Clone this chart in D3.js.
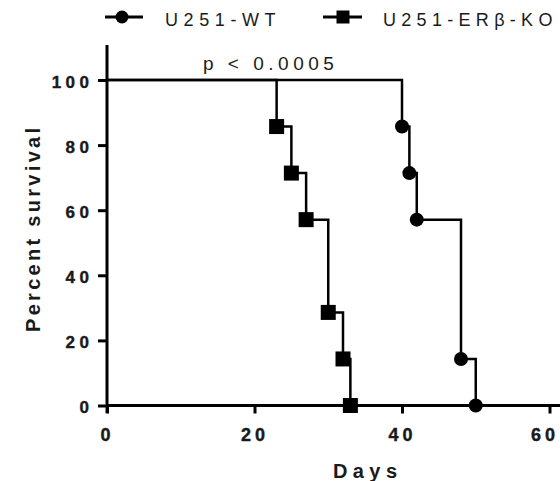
<!DOCTYPE html>
<html><head><meta charset="utf-8">
<script src="https://cdn.jsdelivr.net/npm/d3@7"></script>
<style>body{margin:0;background:#fff}svg{display:block}text{font-family:"Liberation Sans",Arial,sans-serif;fill:#1a1a1a}</style>
</head><body><svg id="c" width="560" height="481"></svg>
<script>
const seriesNames = ["U251-WT", "U251-ERβ-KO"];
const wtDays = [0, 40, 41, 42, 48, 50];
const wtSurvival = [100, 85.7, 71.4, 57.1, 14.3, 0];
const koDays = [0, 23, 25, 27, 30, 32, 33];
const koSurvival = [100, 85.7, 71.4, 57.1, 28.6, 14.3, 0];
const xTicks = [0, 20, 40, 60];
const yTicks = [0, 20, 40, 60, 80, 100];
const pText = "p < 0.0005";

const svg = d3.select("#c");
const x = d3.scaleLinear().domain([0, 60]).range([107, 549.5]);
const y = d3.scaleLinear().domain([0, 100]).range([405.5, 80]);

// y axis
const yAxis = svg.append("g").attr("transform", `translate(${x(0)},0)`)
  .call(d3.axisLeft(y).tickValues(yTicks).tickSize(9).tickPadding(9));
yAxis.select(".domain").remove();
yAxis.append("line").attr("x1", 0).attr("x2", 0).attr("y1", 45).attr("y2", 413)
  .attr("stroke", "#000").attr("stroke-width", 3);
yAxis.selectAll(".tick line").attr("stroke", "#000").attr("stroke-width", 3);
yAxis.selectAll(".tick text").attr("font-size", 17).attr("font-weight", "bold")
  .attr("letter-spacing", 4.5).attr("x", -13.5).attr("dy", 7)
  .attr("fill", "#1a1a1a").attr("stroke", "#1a1a1a").attr("stroke-width", 0.4);

// x axis
const xAxis = svg.append("g").attr("transform", `translate(0,${y(0)})`)
  .call(d3.axisBottom(x).tickValues(xTicks).tickSize(8).tickPadding(14));
xAxis.select(".domain").remove();
xAxis.append("line").attr("x1", x(0)).attr("x2", 560).attr("y1", 0).attr("y2", 0)
  .attr("stroke", "#000").attr("stroke-width", 3);
xAxis.selectAll(".tick line").attr("stroke", "#000").attr("stroke-width", 3);
xAxis.selectAll(".tick text").attr("font-size", 18).attr("font-weight", "bold")
  .attr("letter-spacing", 4).attr("y", 35.5).attr("dy", 0)
  .attr("dx", d => d === 60 ? -5 : 0)
  .attr("fill", "#1a1a1a").attr("stroke", "#1a1a1a").attr("stroke-width", 0.4);

// step lines
const line = d3.line().x(d => x(d[0])).y(d => y(d[1])).curve(d3.curveStepAfter);
const wtPts = wtDays.map((d, i) => [d, wtSurvival[i]]);
const koPts = koDays.map((d, i) => [d, koSurvival[i]]);
[wtPts, koPts].forEach(p => {
  svg.append("path").attr("d", line(p)).attr("fill", "none")
    .attr("stroke", "#000").attr("stroke-width", 2.5);
});

// markers
svg.selectAll(".wt").data(wtPts.slice(1)).enter().append("circle")
  .attr("cx", d => x(d[0])).attr("cy", d => y(d[1])).attr("r", 7).attr("fill", "#000");
svg.selectAll(".ko").data(koPts.slice(1)).enter().append("rect")
  .attr("x", d => x(d[0]) - 7.5).attr("y", d => y(d[1]) - 7.5)
  .attr("width", 15).attr("height", 15).attr("fill", "#000");

// p text
svg.append("text").attr("x", 203).attr("y", 69.5)
  .attr("font-size", 19).attr("letter-spacing", 4.5).text(pText);

// axis titles
svg.append("text").attr("x", 333).attr("y", 478)
  .attr("font-size", 20).attr("font-weight", "bold").attr("letter-spacing", 5.4).text("Days");
svg.append("text").attr("transform", "translate(40,332) rotate(-90)")
  .attr("font-size", 20).attr("font-weight", "bold").attr("letter-spacing", 3.3).text("Percent survival");

// legend
const lg = svg.append("g");
lg.append("line").attr("x1", 105).attr("x2", 143).attr("y1", 17).attr("y2", 17).attr("stroke", "#000").attr("stroke-width", 3);
lg.append("circle").attr("cx", 122).attr("cy", 17).attr("r", 6.5).attr("fill", "#000");
lg.append("text").attr("x", 165).attr("y", 26).attr("font-size", 18).attr("letter-spacing", 5.6).text(seriesNames[0]);
lg.append("line").attr("x1", 323).attr("x2", 362).attr("y1", 17).attr("y2", 17).attr("stroke", "#000").attr("stroke-width", 3);
lg.append("rect").attr("x", 336.5).attr("y", 10.5).attr("width", 13).attr("height", 13).attr("fill", "#000");
lg.append("text").attr("x", 383).attr("y", 26).attr("font-size", 18).attr("letter-spacing", 5.3).text(seriesNames[1]);
</script></body></html>
